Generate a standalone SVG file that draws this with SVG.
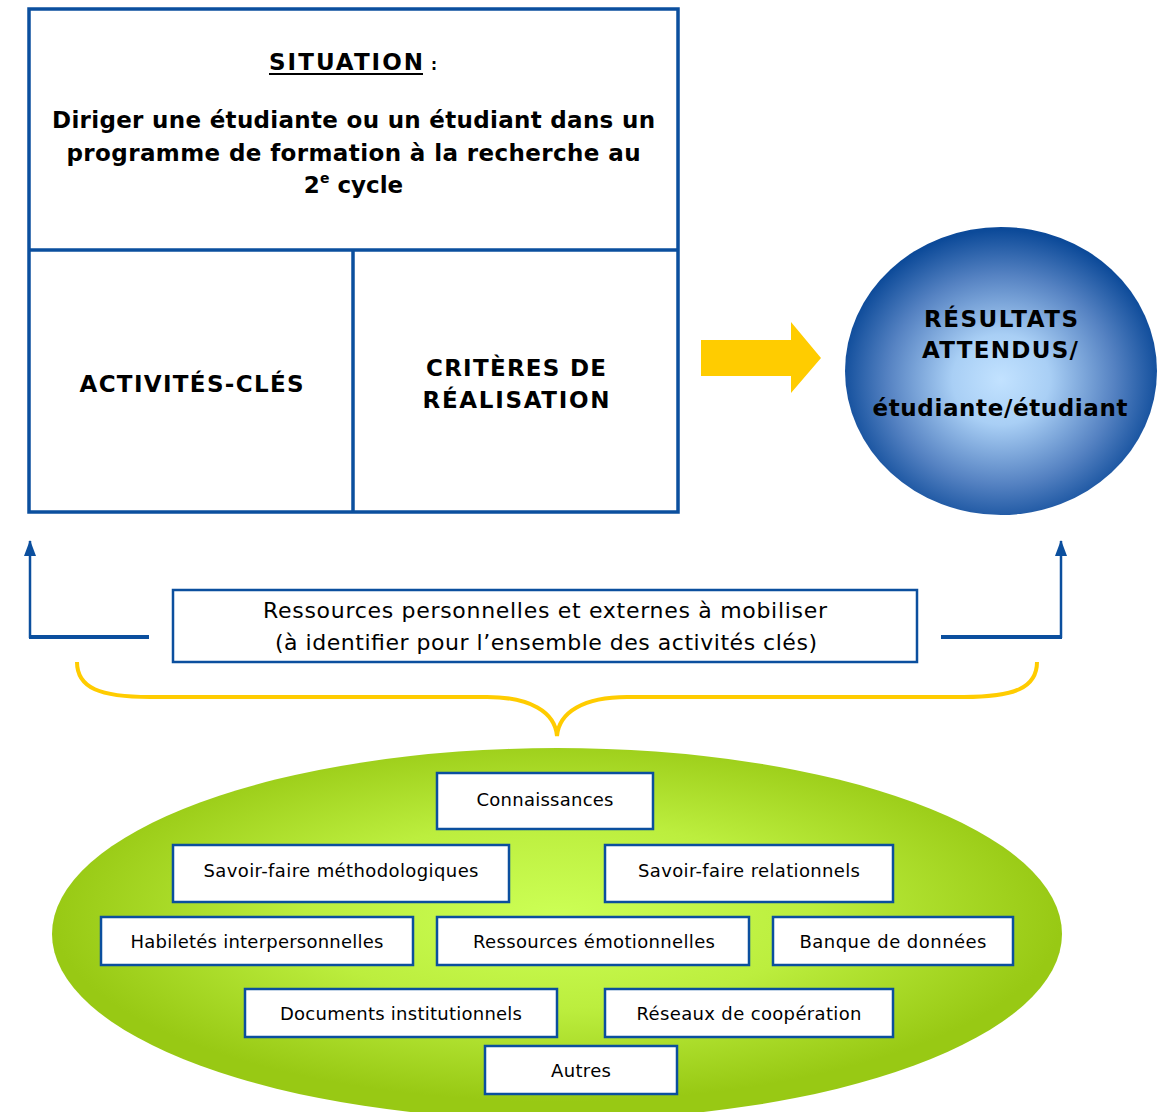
<svg xmlns="http://www.w3.org/2000/svg" width="1169" height="1112" viewBox="0 0 1169 1112">
<defs>
<radialGradient id="blueG" cx="50%" cy="53%" r="52%">
<stop offset="0" stop-color="#c2e2ff"/>
<stop offset="0.3" stop-color="#a9cff5"/>
<stop offset="0.7" stop-color="#5582c2"/>
<stop offset="1" stop-color="#0c4a99"/>
</radialGradient>
<radialGradient id="greenG" cx="50%" cy="45%" r="50%">
<stop offset="0" stop-color="#ccff55"/>
<stop offset="0.5" stop-color="#bcee3e"/>
<stop offset="1" stop-color="#98c914"/>
</radialGradient>
<marker id="ah" markerWidth="16" markerHeight="12" refX="15" refY="6" orient="auto" markerUnits="userSpaceOnUse" viewBox="0 0 16 12">
<path d="M0,0 L16,6 L0,12 Z" fill="#0b4f9e"/>
</marker>
</defs>
<style>
.frame{fill:none;stroke:#0b4f9e;stroke-width:3.5}
.bx{fill:#ffffff;stroke:#0b4f9e;stroke-width:2.5}
.bt{font-family:"DejaVu Sans","Verdana",sans-serif;font-weight:bold;font-size:23px;fill:#000;text-anchor:middle}
.st{font-family:"DejaVu Sans","Verdana",sans-serif;font-size:18px;fill:#000;text-anchor:middle}
.rt{font-family:"DejaVu Sans","Verdana",sans-serif;font-size:22px;fill:#000;text-anchor:middle}
</style>

<g id="situation">
<rect x="29" y="9" width="649" height="503" class="frame"/>
<line x1="29" y1="250" x2="678" y2="250" stroke="#0b4f9e" stroke-width="3.5"/>
<text x="269" y="70" font-family="DejaVu Sans, Verdana, sans-serif" font-weight="bold" font-size="23" textLength="154">SITUATION</text>
<text x="431" y="70" font-family="DejaVu Sans, Verdana, sans-serif" font-weight="bold" font-size="15">:</text>
<line x1="269" y1="74" x2="423" y2="74" stroke="#000" stroke-width="2"/>
<text x="353.5" y="128" class="bt" textLength="603">Diriger une étudiante ou un étudiant dans un</text>
<text x="353.5" y="161" class="bt" textLength="574">programme de formation à la recherche au</text>
<text x="353.5" y="193" class="bt"><tspan>2</tspan><tspan font-size="14" dy="-10">e</tspan><tspan dy="10"> cycle</tspan></text>
</g>

<g id="activites">
<line x1="353" y1="250" x2="353" y2="512" stroke="#0b4f9e" stroke-width="3.5"/>
<text x="191.5" y="392" class="bt" textLength="224">ACTIVITÉS-CLÉS</text>
</g>

<g id="criteres">
<text x="516" y="376" class="bt" textLength="180">CRITÈRES DE</text>
<text x="516" y="408" class="bt" textLength="187">RÉALISATION</text>
</g>

<g id="resultats">
<ellipse cx="1001" cy="371" rx="156" ry="144" fill="url(#blueG)"/>
<text x="1001" y="327" class="bt" textLength="154">RÉSULTATS</text>
<text x="1000" y="358" class="bt" textLength="156">ATTENDUS/</text>
<text x="1000" y="416" class="bt" textLength="255">étudiante/étudiant</text>
</g>

<g id="ressources">
<rect x="173" y="590" width="744" height="72" class="bx" stroke-width="2"/>
<text x="545" y="618" class="rt" textLength="564">Ressources personnelles et externes à mobiliser</text>
<text x="546" y="650" class="rt" textLength="542">(à identifier pour l’ensemble des activités clés)</text>
</g>

<g id="connectors">
<path d="M701,340 L791,340 L791,322 L821,358 L791,393 L791,376 L701,376 Z" fill="#ffcc00"/>
<line x1="29" y1="637" x2="149" y2="637" stroke="#0b4f9e" stroke-width="4"/>
<line x1="30" y1="638" x2="30" y2="541" stroke="#0b4f9e" stroke-width="2.5" marker-end="url(#ah)"/>
<line x1="941" y1="637" x2="1062" y2="637" stroke="#0b4f9e" stroke-width="4"/>
<line x1="1061" y1="638" x2="1061" y2="541" stroke="#0b4f9e" stroke-width="2.5" marker-end="url(#ah)"/>
<path d="M77,662 C77,688 100,697 150,697 L487,697 C530,697 555,712 557,736 C559,712 584,697 627,697 L964,697 C1014,697 1037,688 1037,662" fill="none" stroke="#ffcc00" stroke-width="4"/>
</g>

<g id="ressources-ellipse">
<ellipse cx="557" cy="934" rx="505" ry="186" fill="url(#greenG)"/>
</g>

<g id="connaissances">
<rect x="437" y="773" width="216" height="56" class="bx"/>
<text x="545" y="806" class="st" textLength="137">Connaissances</text>
</g>
<g id="sf-methodo">
<rect x="173" y="845" width="336" height="57" class="bx"/>
<text x="341" y="877" class="st" textLength="275">Savoir-faire méthodologiques</text>
</g>
<g id="sf-relation">
<rect x="605" y="845" width="288" height="57" class="bx"/>
<text x="749" y="877" class="st" textLength="222">Savoir-faire relationnels</text>
</g>
<g id="habiletes">
<rect x="101" y="917" width="312" height="48" class="bx"/>
<text x="257" y="948" class="st" textLength="253">Habiletés interpersonnelles</text>
</g>
<g id="emotion">
<rect x="437" y="917" width="312" height="48" class="bx"/>
<text x="594" y="948" class="st" textLength="242">Ressources émotionnelles</text>
</g>
<g id="banque">
<rect x="773" y="917" width="240" height="48" class="bx"/>
<text x="893" y="948" class="st" textLength="187">Banque de données</text>
</g>
<g id="documents">
<rect x="245" y="989" width="312" height="48" class="bx"/>
<text x="401" y="1020" class="st" textLength="242">Documents institutionnels</text>
</g>
<g id="reseaux">
<rect x="605" y="989" width="288" height="48" class="bx"/>
<text x="749" y="1020" class="st" textLength="225">Réseaux de coopération</text>
</g>
<g id="autres">
<rect x="485" y="1046" width="192" height="48" class="bx"/>
<text x="581" y="1077" class="st" textLength="60">Autres</text>
</g>
</svg>
